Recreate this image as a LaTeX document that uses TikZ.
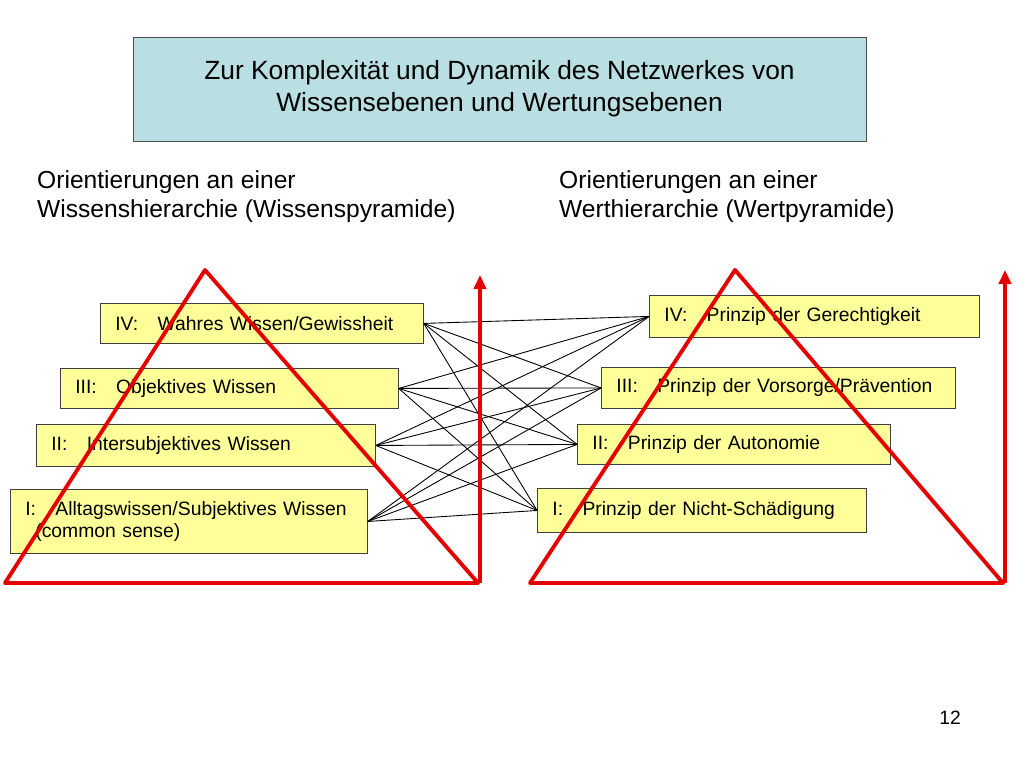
\documentclass[tikz,border=0pt]{standalone}
\usepackage{fontspec}
\setmainfont{Liberation Sans}
\usetikzlibrary{arrows.meta}

\definecolor{titleblue}{RGB}{185,223,227}
\definecolor{levelyellow}{RGB}{255,255,153}
\tikzset{
  level/.style={draw=black!75, fill=levelyellow, inner sep=0pt, anchor=north west,
    align=left, font=\fontsize{11}{13}\selectfont},
  pyr/.style={red!90!black, line width=2.2pt, line join=round},
  link/.style={black, line width=0.5pt}
}
% box: name, x, y, width, height, text
\newcommand\lvbox[6]{%
  \node [level, minimum width=#4*0.02cm, minimum height=#5*0.02cm,
    text width=#4*0.02cm-0.2cm] (#1) at (#2*0.02,-#3*0.02) {\hspace*{0.2cm}#6};}

\begin{document}
\begin{tikzpicture}
    \useasboundingbox (0,0) rectangle (20.48,-15.36);
    \node [draw=black!70, fill=titleblue, minimum width=14.66cm,
      minimum height=2.08cm, align=center, font=\fontsize{15}{18}\selectfont]
      (title) at (9.99,-1.78) {%
      Zur Komplexität und Dynamik des Netzwerkes von\\
      Wissensebenen und Wertungsebenen
    };
    \node [anchor=north west, align=left, font=\fontsize{14}{17}\selectfont]
      (hleft) at (0.62,-3.28) {%
      Orientierungen an einer\\ Wissenshierarchie (Wissenspyramide)};
    \node [anchor=north west, align=left, font=\fontsize{14}{17}\selectfont]
      (hright) at (11.06,-3.28) {%
      Orientierungen an einer\\ Werthierarchie (Wertpyramide)};

    \lvbox{wIV}{100}{303}{323}{40}{IV:\ \ \ Wahres Wissen/Gewissheit}
    \lvbox{wIII}{60}{368}{338}{40}{III:\ \ \ Objektives Wissen}
    \lvbox{wII}{36}{424}{339}{42}{II:\ \ \ Intersubjektives Wissen}
    \lvbox{wI}{10}{489}{357}{64}{I:\ \ \ Alltagswissen/Subjektives Wissen\\\hspace*{0.4cm}(common sense)}
    \lvbox{vIV}{649}{295}{330}{42}{IV:\ \ \ Prinzip der Gerechtigkeit}
    \lvbox{vIII}{601}{367}{354}{41}{III:\ \ \ Prinzip der Vorsorge/Prävention}
    \lvbox{vII}{577}{424}{313}{40}{II:\ \ \ Prinzip der Autonomie}
    \lvbox{vI}{537}{488}{329}{44}{I:\ \ \ Prinzip der Nicht-Schädigung}

    \foreach \a in {wIV,wIII,wII,wI}
      \foreach \b in {vIV,vIII,vII,vI}
        \draw [link] (\a.east) -- (\b.west);

    % pyramids
    \draw [pyr] (4.1,-5.4) -- (0.1,-11.66) -- (9.56,-11.66) -- cycle;
    \draw [pyr] (14.7,-5.4) -- (10.6,-11.66) -- (20.06,-11.66) -- cycle;
    \draw [pyr, -{Triangle[length=8pt, width=7pt]}] (9.6,-11.66) -- (9.6,-5.5);
    \draw [pyr, -{Triangle[length=8pt, width=7pt]}] (20.1,-11.66) -- (20.1,-5.4);

    \node [font=\fontsize{11}{13}\selectfont] (page) at (19.0,-14.36) {12};
\end{tikzpicture}
\end{document}
